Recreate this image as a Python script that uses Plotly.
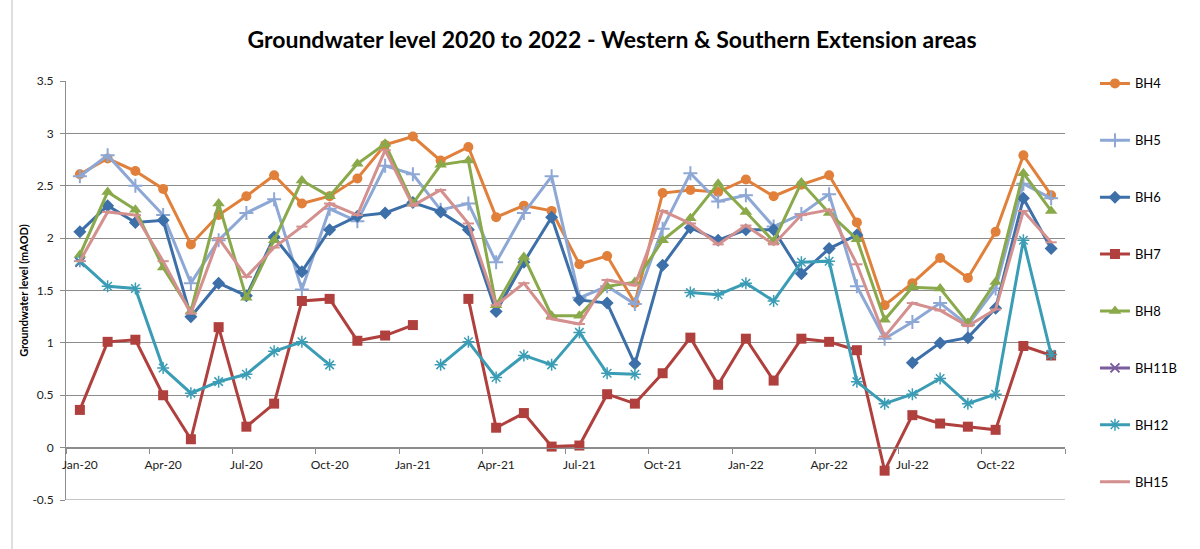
import plotly.graph_objects as go

# Monthly groundwater readings, Jan-2020 .. Dec-2022 (mAOD); None = no reading
months = [f"{m}-{y}" for y in ("20", "21", "22")
          for m in ("Jan", "Feb", "Mar", "Apr", "May", "Jun",
                    "Jul", "Aug", "Sep", "Oct", "Nov", "Dec")]

bh4 = [2.61, 2.76, 2.64, 2.47, 1.94, 2.22, 2.40, 2.60, 2.33, 2.40, 2.57, 2.89,
       2.97, 2.74, 2.87, 2.20, 2.31, 2.26, 1.75, 1.83, 1.38, 2.43, 2.46, 2.44,
       2.56, 2.40, 2.51, 2.60, 2.15, 1.36, 1.57, 1.81, 1.62, 2.06, 2.79, 2.41]
bh5 = [2.59, 2.79, 2.50, 2.22, 1.57, 1.98, 2.24, 2.37, 1.51, 2.28, 2.16, 2.69,
       2.61, 2.27, 2.33, 1.77, 2.24, 2.59, 1.43, 1.54, 1.37, 2.09, 2.62, 2.35,
       2.41, 2.11, 2.23, 2.42, 1.54, 1.04, 1.20, 1.38, 1.17, 1.52, 2.52, 2.38]
bh6 = [2.06, 2.31, 2.15, 2.17, 1.25, 1.57, 1.45, 2.01, 1.68, 2.08, 2.21, 2.24,
       2.34, 2.25, 2.08, 1.30, 1.77, 2.20, 1.41, 1.38, 0.80, 1.74, 2.10, 1.98,
       2.08, 2.08, 1.66, 1.90, 2.03, None, 0.81, 1.00, 1.05, 1.33, 2.38, 1.90]
bh7 = [0.36, 1.01, 1.03, 0.50, 0.08, 1.15, 0.20, 0.42, 1.40, 1.42, 1.02, 1.07,
       1.17, None, 1.42, 0.19, 0.33, 0.01, 0.02, 0.51, 0.42, 0.71, 1.05, 0.60,
       1.04, 0.64, 1.04, 1.01, 0.93, -0.22, 0.31, 0.23, 0.20, 0.17, 0.97, 0.88]
bh8 = [1.84, 2.44, 2.27, 1.72, 1.30, 2.33, 1.43, 1.98, 2.55, 2.40, 2.71, 2.90,
       2.33, 2.70, 2.74, 1.36, 1.82, 1.26, 1.26, 1.54, 1.58, 1.98, 2.19, 2.52,
       2.25, 1.97, 2.53, 2.24, 1.99, 1.22, 1.53, 1.52, 1.19, 1.58, 2.62, 2.26]
bh11b = [1.77] + [None] * 35
bh12 = [1.78, 1.54, 1.52, 0.76, 0.52, 0.63, 0.70, 0.92, 1.01, 0.79, None, None,
        None, 0.79, 1.01, 0.67, 0.88, 0.79, 1.10, 0.71, 0.70, None, 1.48, 1.46,
        1.57, 1.40, 1.77, 1.78, 0.63, 0.42, 0.51, 0.66, 0.42, 0.51, 1.98, 0.89]
bh15 = [1.78, 2.25, 2.22, 1.78, 1.28, 2.00, 1.63, 1.91, 2.11, 2.33, 2.22, 2.84,
        2.31, 2.46, 2.14, 1.36, 1.57, 1.23, 1.18, 1.60, 1.55, 2.26, 2.14, 1.94,
        2.12, 1.94, 2.22, 2.27, 1.75, 1.06, 1.38, 1.31, 1.16, 1.32, 2.26, 1.96]

y_ticks = [-0.5, 0, 0.5, 1, 1.5, 2, 2.5, 3, 3.5]
y_tick_text = ["-0.5", "0", "0.5", "1", "1.5", "2", "2.5", "3", "3.5"]

x = list(range(len(months)))

series = [
    ("BH4", bh4, "#E0803A", "circle", 10, 0),
    ("BH5", bh5, "#8EA8D6", "cross-thin", 10, 2),
    ("BH6", bh6, "#3D6FA9", "diamond", 10, 0),
    ("BH7", bh7, "#B0403D", "square", 10, 0),
    ("BH8", bh8, "#89A94A", "triangle-up", 11, 0),
    ("BH11B", bh11b, "#7A5D9C", "x-thin", 9, 2),
    ("BH12", bh12, "#3B9DB5", "asterisk", 10, 1.5),
    ("BH15", bh15, "#D4908E", "line-ew", 8, 2),
]

fig = go.Figure()
for name, vals, color, symbol, size, mlw in series:
    fig.add_trace(go.Scatter(
        x=x, y=vals, name=name, mode="lines+markers", legendgroup=name,
        connectgaps=False,
        line=dict(color=color, width=3),
        marker=dict(symbol=symbol, size=size, color=color,
                    line=dict(color=color, width=mlw)),
    ))

# x axis crosses at y = 0, i.e. 0.5/4 of the way up the plot area
x_cross = (0 - y_ticks[0]) / (y_ticks[-1] - y_ticks[0])

grid_color = "#8c8c8c"

fig.update_layout(
    width=1200, height=549,
    margin=dict(l=66, r=135, t=81, b=49),
    paper_bgcolor="white", plot_bgcolor="white",
    font=dict(family="Lato, 'Open Sans', sans-serif", color="#222", size=12),
    title=dict(
        text="<b>Groundwater level 2020 to 2022 - Western & Southern Extension areas</b>",
        font=dict(size=23, color="#000"),
        x=0.51, xanchor="center", y=1 - 40 / 549, yanchor="middle",
        xref="container", yref="container",
    ),
    xaxis=dict(
        range=[-0.5, len(months) - 0.5],
        tickmode="array",
        tickvals=x[::3], ticktext=months[::3],
        ticks="", showgrid=False, zeroline=False,
        showline=True, linecolor=grid_color, linewidth=1,
        anchor="free", position=x_cross,
        ticklabelstandoff=6,
        tickfont=dict(size=12, color="#222"),
        minor=dict(tickmode="array",
                   tickvals=[v - 0.5 for v in x[::3]] + [len(months) - 0.5],
                   ticks="outside", ticklen=5, tickcolor=grid_color, showgrid=False),
    ),
    yaxis=dict(
        range=[y_ticks[0], y_ticks[-1]],
        tickmode="array", tickvals=y_ticks, ticktext=y_tick_text,
        showgrid=True, gridcolor=grid_color, gridwidth=1,
        zeroline=False,
        showline=True, linecolor=grid_color, linewidth=1,
        ticks="outside", ticklen=5, tickcolor=grid_color,
        ticklabelstandoff=4,
        tickfont=dict(size=12, color="#222"),
        title=dict(text="<b>Groundwater level (mAOD)</b>",
                   font=dict(size=11, color="#000"), standoff=1),
    ),
    legend=dict(
        x=1.03, xanchor="left", y=1.03, yanchor="top",
        font=dict(size=13, color="#000"),
        tracegroupgap=37, itemwidth=30,
        maxheight=549,
        bgcolor="rgba(0,0,0,0)",
    ),
    shapes=[
        # bottom gridline at the lower end of the value range
        dict(type="line", xref="paper", yref="y", x0=0, x1=1,
             y0=y_ticks[0], y1=y_ticks[0],
             line=dict(color=grid_color, width=1), layer="below"),
        # chart-area border on the left
        dict(type="line", xref="paper", yref="paper",
             x0=(12 - 66) / 999, x1=(12 - 66) / 999,
             y0=-49 / 419, y1=500 / 419,
             line=dict(color="#bfbfbf", width=1)),
    ],
)

fig.write_html("out.html")
